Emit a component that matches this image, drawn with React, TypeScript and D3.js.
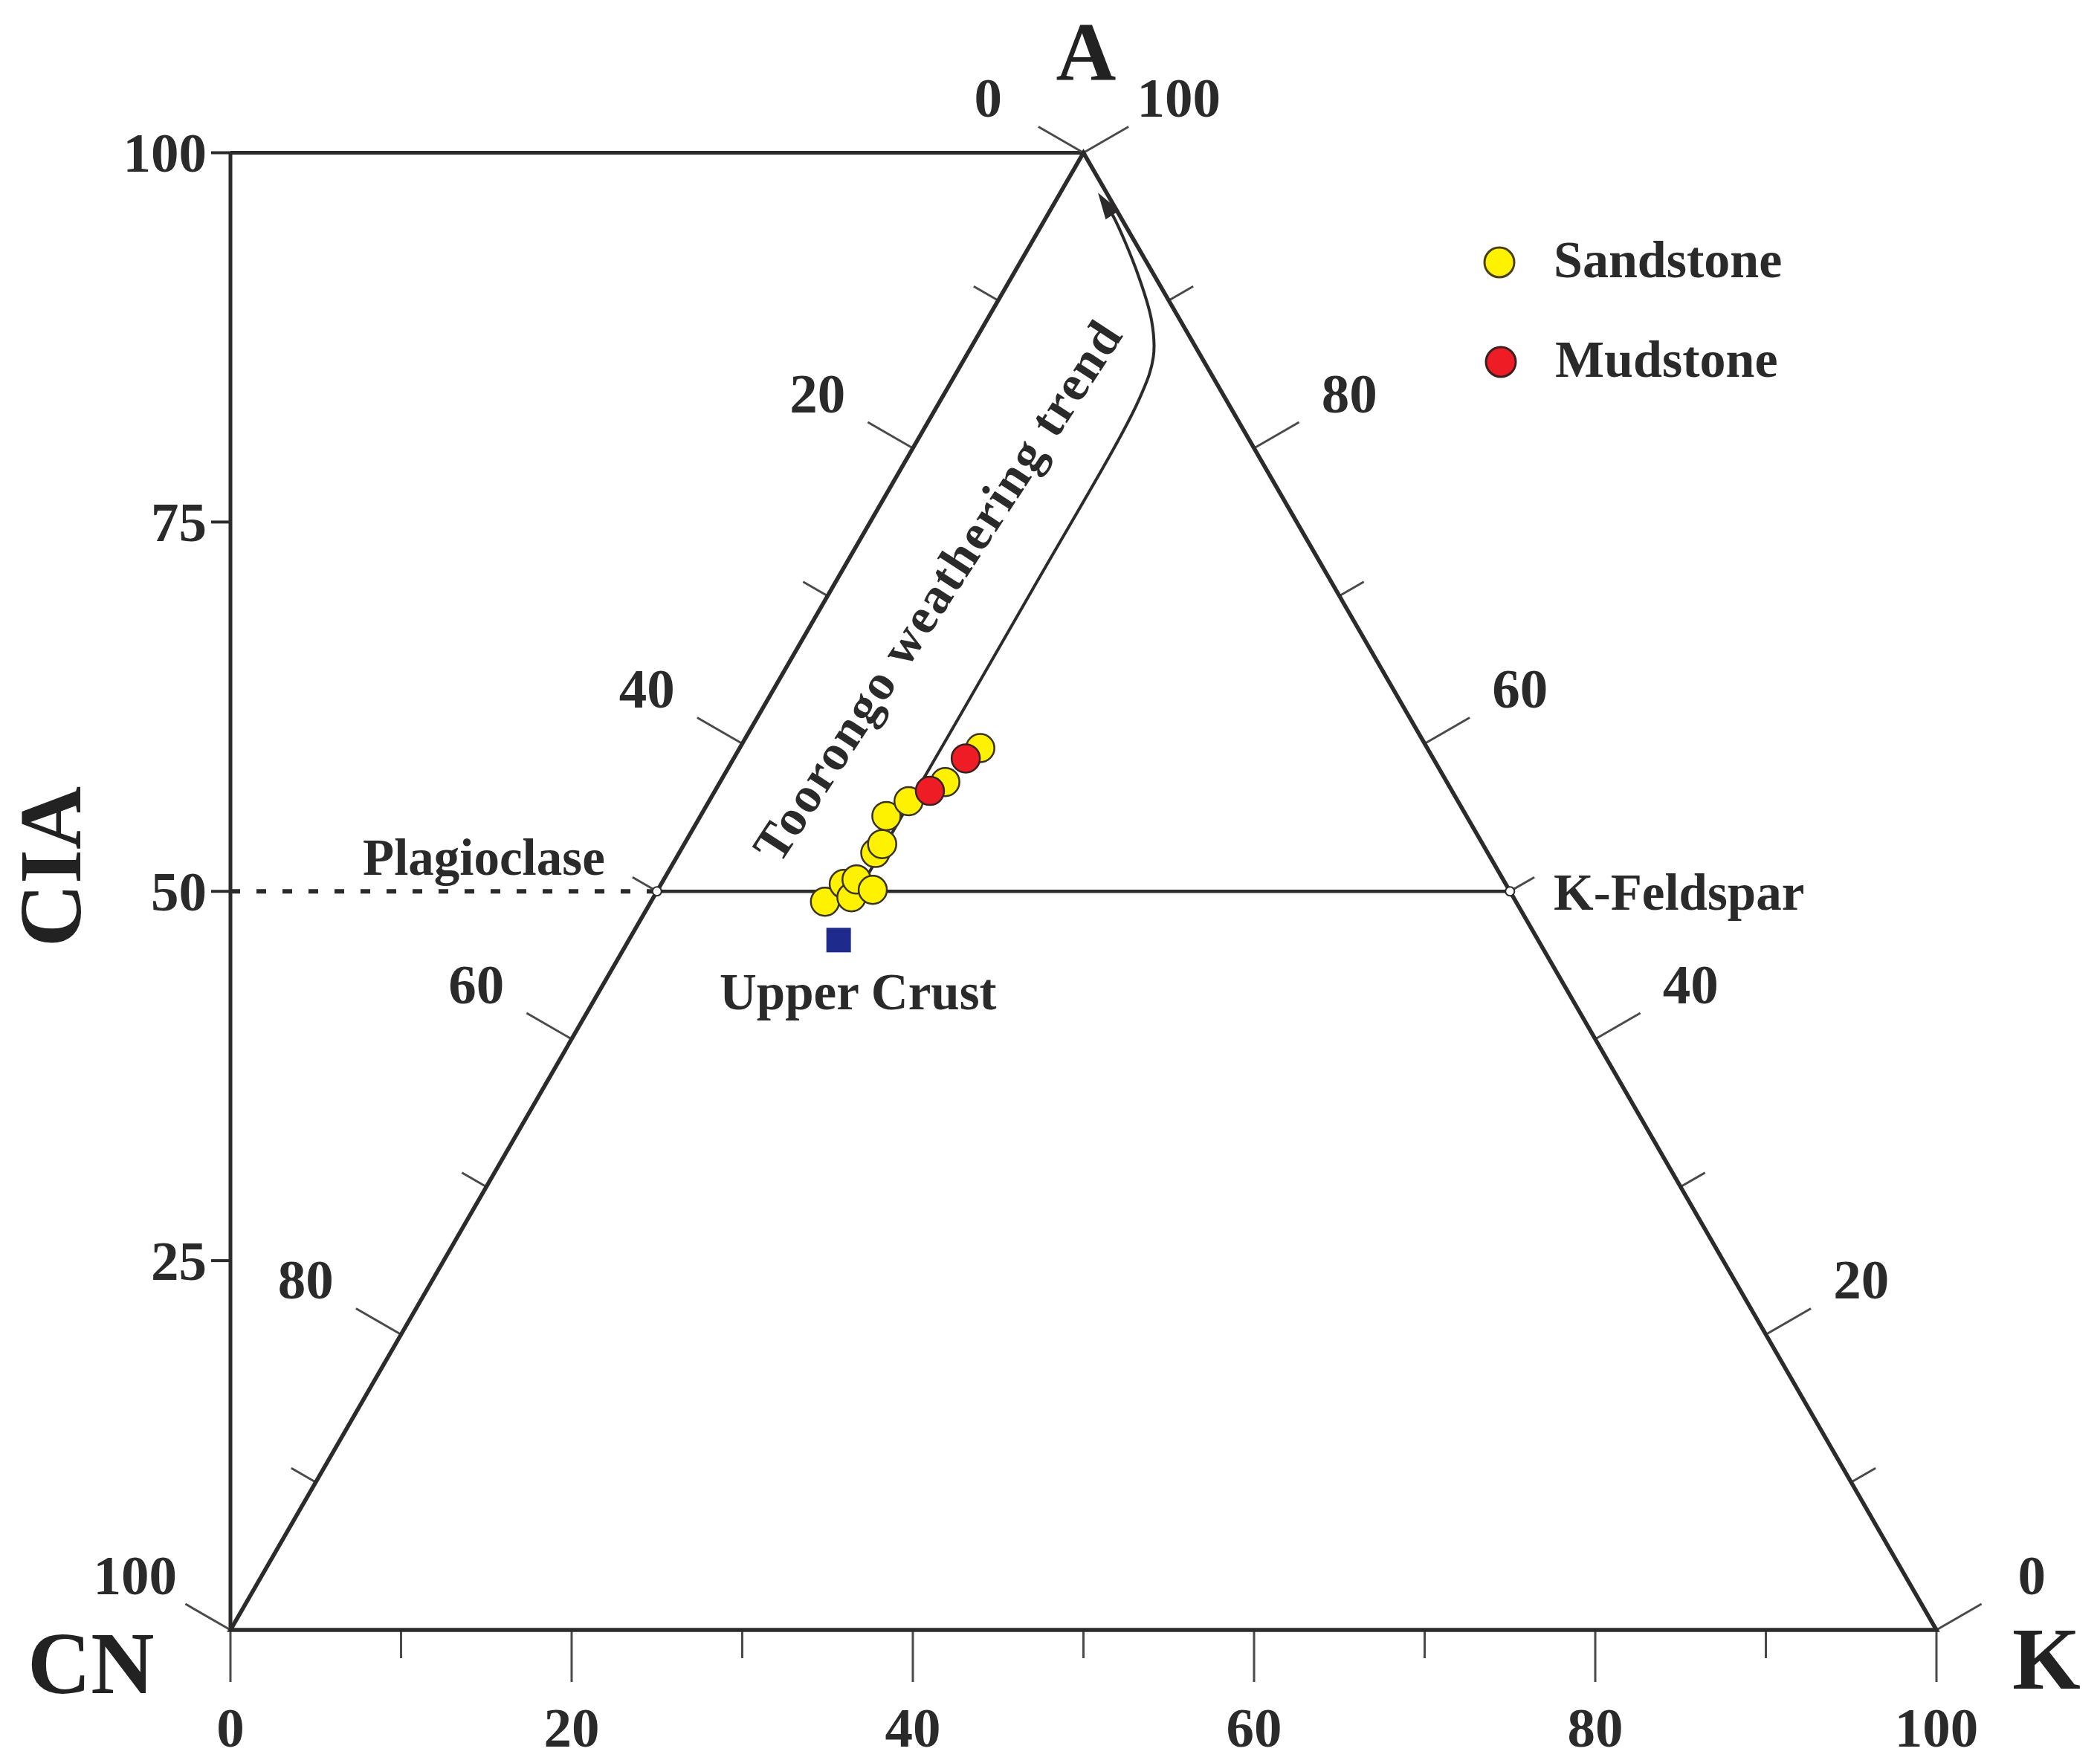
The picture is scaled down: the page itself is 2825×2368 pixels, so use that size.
import React from "react";
import * as d3 from "d3";

// ---------- data (ternary %, A = Al2O3, K = K2O, CN = 100 - A - K) ----------
const sandstoneA = [49.3, 50.5, 49.6, 50.8, 50.1, 52.6, 53.2, 55.1, 56.1, 57.4, 59.7];
const sandstoneK = [10.2, 10.7, 11.6, 11.3, 12.6, 11.5, 11.6, 10.9, 11.7, 13.2, 14.1];
const mudstoneA = [56.8, 59.0];
const mudstoneK = [12.6, 13.6];
const upperCrustA = [46.7];
const upperCrustK = [12.3];

// weathering trend path (A, K)
const trendA = [51.2, 70.0, 83.4, 86.2, 88.6, 91.9, 95.7, 97.3];
const trendK = [11.8, 11.8, 11.6, 11.0, 9.7, 7.2, 3.9, 2.2];

const edgeTicks = d3.range(0, 101, 10);
const ciaTicks = [25, 50, 75, 100];

// mineral reference points
const plagioclase = { a: 50, k: 0 };
const kFeldspar = { a: 50, k: 50 };

const W = 2825;
const H = 2368;

const FONT = "'Liberation Serif', 'Times New Roman', serif";

export default function App() {
  // horizontal position of (k + a/2), vertical position of a
  const x = d3.scaleLinear().domain([0, 100]).range([310, 2605]);
  const y = d3.scaleLinear().domain([0, 100]).range([2193, 205.5]);
  const pt = (a: number, k: number): [number, number] => [x(k + a / 2), y(a)];

  const vCN = pt(0, 0);
  const vK = pt(0, 100);
  const vA = pt(100, 0);

  const stroke = "#2d2a2b";
  const tickCol = "#4a4a4a";
  const major = 70;
  const minor = 38;
  const labOff = 148;
  const s3 = Math.sqrt(3) / 2;

  const nLeft: [number, number] = [-s3, -0.5];
  const nRight: [number, number] = [s3, -0.5];
  const nBottom: [number, number] = [0, 1];

  type Tk = { p: [number, number]; n: [number, number]; v: number; key: string };
  const ticks: Tk[] = [];
  edgeTicks.forEach((v) => {
    ticks.push({ p: pt(0, v), n: nBottom, v, key: "b" + v }); // K %
    ticks.push({ p: pt(100 - v, 0), n: nLeft, v, key: "l" + v }); // CN %
    ticks.push({ p: pt(v, 100 - v), n: nRight, v, key: "r" + v }); // A %
  });

  const lineGen = d3
    .line<[number, number]>()
    .x((d) => d[0])
    .y((d) => d[1])
    .curve(d3.curveCatmullRom.alpha(0.5));

  const trendPts: [number, number][] = trendA.map((a, i) => pt(a, trendK[i]));
  const tip = trendPts[trendPts.length - 1];
  const prev = trendPts[trendPts.length - 2];
  const dx = tip[0] - prev[0];
  const dy = tip[1] - prev[1];
  const dl = Math.hypot(dx, dy);
  const ux = dx / dl;
  const uy = dy / dl;
  const ahLen = 36;
  const ahW = 11;
  const base: [number, number] = [tip[0] - ux * ahLen, tip[1] - uy * ahLen];
  const headPts = [
    tip,
    [base[0] - uy * ahW, base[1] + ux * ahW],
    [base[0] + uy * ahW, base[1] - ux * ahW],
  ];
  const linePts = [...trendPts.slice(0, -1), [tip[0] - ux * 20, tip[1] - uy * 20] as [number, number]];

  const pPlag = pt(plagioclase.a, plagioclase.k);
  const pKfs = pt(kFeldspar.a, kFeldspar.k);

  const sand = sandstoneA.map((a, i) => pt(a, sandstoneK[i]));
  const mud = mudstoneA.map((a, i) => pt(a, mudstoneK[i]));
  const ucc = upperCrustA.map((a, i) => pt(a, upperCrustK[i]));

  const axisX = vCN[0];

  return (
    <svg
      width={W}
      height={H}
      viewBox={`0 0 ${W} ${H}`}
      style={{ position: "absolute", left: 0, top: 0, background: "#fff" }}
      fontFamily={FONT}
      fontWeight="bold"
    >
      <rect width={W} height={H} fill="#fff" />

      {/* CIA axis and top frame line */}
      <line x1={axisX} y1={y(100)} x2={axisX} y2={y(0)} stroke={stroke} strokeWidth={5} />
      <line x1={axisX} y1={y(100)} x2={vA[0]} y2={vA[1]} stroke={stroke} strokeWidth={5} />
      {ciaTicks.map((v) => (
        <g key={"cia" + v}>
          <line x1={axisX - 26} y1={y(v)} x2={axisX} y2={y(v)} stroke={stroke} strokeWidth={4} />
          <text x={axisX - 32} y={y(v)} textAnchor="end" dominantBaseline="central" fontSize={75} fill="#2a2a2a">
            {v}
          </text>
        </g>
      ))}

      {/* dotted line to plagioclase */}
      <line
        x1={axisX}
        y1={y(50)}
        x2={pPlag[0]}
        y2={pPlag[1]}
        stroke={stroke}
        strokeWidth={6}
        strokeDasharray="13 22"
      />

      {/* edge ticks */}
      {ticks.map((t) => {
        const len = t.v % 20 === 0 ? major : minor;
        return (
          <line
            key={t.key}
            x1={t.p[0]}
            y1={t.p[1]}
            x2={t.p[0] + t.n[0] * len}
            y2={t.p[1] + t.n[1] * len}
            stroke={tickCol}
            strokeWidth={3}
          />
        );
      })}
      {ticks
        .filter((t) => t.v % 20 === 0)
        .map((t) => {
          const isBottom = t.key.startsWith("b");
          if (isBottom) {
            return (
              <text key={"t" + t.key} x={t.p[0]} y={t.p[1] + 157} textAnchor="middle" fontSize={75} fill="#2a2a2a">
                {t.v}
              </text>
            );
          }
          return (
            <text
              key={"t" + t.key}
              x={t.p[0] + t.n[0] * labOff}
              y={t.p[1] + t.n[1] * labOff}
              textAnchor="middle"
              dominantBaseline="central"
              fontSize={75}
              fill="#2a2a2a"
            >
              {t.v}
            </text>
          );
        })}

      {/* triangle */}
      <path
        d={`M${vCN[0]},${vCN[1]}L${vA[0]},${vA[1]}L${vK[0]},${vK[1]}Z`}
        fill="none"
        stroke={stroke}
        strokeWidth={5.5}
        strokeLinejoin="miter"
      />

      {/* feldspar join */}
      <line x1={pPlag[0]} y1={pPlag[1]} x2={pKfs[0]} y2={pKfs[1]} stroke={stroke} strokeWidth={4.5} />

      {/* trend arrow */}
      <path d={lineGen(linePts) || ""} fill="none" stroke={stroke} strokeWidth={4} />
      <polygon points={headPts.map((p) => p.join(",")).join(" ")} fill={stroke} />

      {/* trend label */}
      <text
        transform="translate(1280,808) rotate(-57)"
        textAnchor="middle"
        fontSize={68}
        fill="#2a2a2a"
        textLength={850}
        lengthAdjust="spacing"
      >
        Toorongo weathering trend
      </text>

      {/* mineral markers */}
      <circle cx={pPlag[0]} cy={pPlag[1]} r={6} fill="#fff" stroke={stroke} strokeWidth={2} />
      <circle cx={pKfs[0]} cy={pKfs[1]} r={6} fill="#fff" stroke={stroke} strokeWidth={2} />

      {/* data */}
      {ucc.map((p, i) => (
        <rect key={"u" + i} x={p[0] - 16.5} y={p[1] - 16.5} width={33} height={33} fill="#1e2a8c" />
      ))}
      {sand.map((p, i) => (
        <circle key={"s" + i} cx={p[0]} cy={p[1]} r={19} fill="#fff200" stroke="#3a3320" strokeWidth={2.5} />
      ))}
      {mud.map((p, i) => (
        <circle key={"m" + i} cx={p[0]} cy={p[1]} r={19} fill="#ee1c25" stroke="#3a2020" strokeWidth={2.5} />
      ))}

      {/* annotations */}
      <text x={488} y={1177} fontSize={69} fill="#2a2a2a">
        Plagioclase
      </text>
      <text x={2090} y={1224} fontSize={69} fill="#2a2a2a">
        K-Feldspar
      </text>
      <text x={968} y={1358} fontSize={69} fill="#2a2a2a">
        Upper Crust
      </text>

      {/* vertex labels */}
      <text x={1461} y={108} textAnchor="middle" fontSize={112} fill="#222">
        A
      </text>
      <text x={37} y={2278} fontSize={118} fill="#222">
        CN
      </text>
      <text x={2707} y={2272} fontSize={118} fill="#222">
        K
      </text>
      <text transform="translate(108,1166) rotate(-90)" textAnchor="middle" fontSize={118} fill="#222">
        CIA
      </text>

      {/* legend */}
      <circle cx={2017} cy={353} r={20} fill="#fff200" stroke="#4a3f10" strokeWidth={3} />
      <text x={2090} y={373} fontSize={70} fill="#2a2a2a">
        Sandstone
      </text>
      <circle cx={2019} cy={487} r={20} fill="#ee1c25" stroke="#3a2020" strokeWidth={3} />
      <text x={2092} y={507} fontSize={70} fill="#2a2a2a">
        Mudstone
      </text>
    </svg>
  );
}
